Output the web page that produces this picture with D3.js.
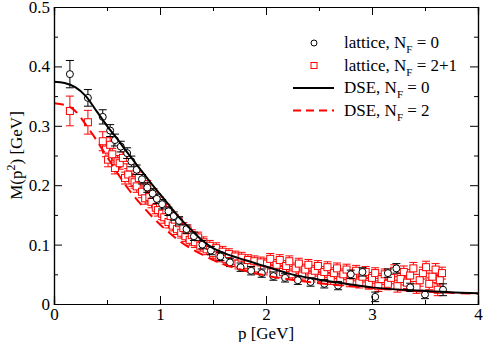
<!DOCTYPE html>
<html>
<head>
  <meta charset="utf-8">
  <title>M(p2)</title>
  <style>
    body { margin: 0; background: #fff; }
    svg text { font-family: "Liberation Serif", "Times New Roman", Times, "DejaVu Serif", serif !important; }
  </style>
</head>
<body>
  <svg width="484" height="342" font-family="Liberation Serif, serif"></svg>
  <script src="https://cdnjs.cloudflare.com/ajax/libs/d3/7.8.5/d3.min.js"></script>
  <script>
    // axis ticks
    let xTicks = [0, 1, 2, 3, 4];
    let yTicks = [0, 0.1, 0.2, 0.3, 0.4, 0.5];

    // DSE curves [p, M]
    let dseNf0 = [[0,0.374],[0.1,0.372],[0.2,0.365],[0.3,0.350],[0.4,0.325],[0.5,0.300],[0.6,0.277],
      [0.7,0.253],[0.8,0.230],[0.9,0.207],[1.0,0.185],[1.1,0.163],[1.2,0.142],[1.3,0.124],[1.4,0.107],
      [1.5,0.094],[1.6,0.086],[1.8,0.074],[2.0,0.063],[2.2,0.052],[2.5,0.041],[2.8,0.033],[3.0,0.028],
      [3.5,0.022],[4.0,0.018]];
    let dseNf2 = [[0,0.338],[0.1,0.335],[0.2,0.325],[0.3,0.302],[0.4,0.276],[0.5,0.248],[0.6,0.220],
      [0.7,0.194],[0.8,0.172],[0.9,0.152],[1.0,0.134],[1.2,0.104],[1.4,0.083],[1.6,0.067],[1.8,0.056],
      [2.0,0.048],[2.5,0.035],[3.0,0.027],[3.5,0.021],[4.0,0.017]];

    // lattice N_F = 0  [p, M, err]
    let latNf0 = [[0.15,0.387,0.023],[0.32,0.347,0.014],[0.46,0.315,0.012],[0.53,0.292,0.01],
      [0.575,0.276,0.01],[0.63,0.265,0.009],[0.69,0.254,0.009],[0.73,0.240,0.009],[0.78,0.226,0.008],
      [0.83,0.210,0.008],[0.88,0.196,0.008],[0.93,0.186,0.008],[0.97,0.177,0.008],[1.02,0.168,0.008],
      [1.08,0.156,0.007],[1.13,0.148,0.007],[1.18,0.140,0.007],[1.25,0.126,0.007],[1.32,0.114,0.007],
      [1.40,0.100,0.007],[1.48,0.090,0.007],[1.57,0.080,0.007],[1.66,0.070,0.007],[1.76,0.062,0.007],
      [1.86,0.056,0.007],[1.96,0.052,0.007],[2.07,0.047,0.007],[2.18,0.044,0.007],[2.30,0.040,0.007],
      [2.42,0.037,0.007],[2.55,0.034,0.007],[2.68,0.031,0.007],[2.80,0.050,0.007],[2.91,0.054,0.007],
      [3.03,0.012,0.008],[3.15,0.052,0.007],[3.23,0.060,0.008],[3.36,0.028,0.007],[3.50,0.016,0.007],
      [3.67,0.024,0.01]];

    // lattice N_F = 2+1  [p, M, err]
    let latNf21 = [[0.15,0.325,0.025],[0.32,0.306,0.02],[0.46,0.274,0.016],[0.49,0.260,0.012],
      [0.51,0.243,0.012],[0.53,0.268,0.012],[0.55,0.252,0.01],[0.575,0.229,0.01],[0.60,0.240,0.01],
      [0.62,0.237,0.01],[0.65,0.246,0.01],[0.67,0.212,0.01],[0.70,0.218,0.01],[0.72,0.230,0.01],
      [0.74,0.208,0.01],[0.76,0.205,0.01],[0.78,0.198,0.01],[0.80,0.212,0.01],[0.83,0.189,0.01],
      [0.86,0.178,0.01],[0.88,0.198,0.01],[0.90,0.180,0.01],[0.92,0.172,0.01],[0.94,0.184,0.01],
      [0.96,0.162,0.01],[0.98,0.158,0.01],[1.00,0.170,0.01],[1.02,0.152,0.01],[1.04,0.146,0.01],
      [1.06,0.158,0.01],[1.08,0.138,0.01],[1.10,0.148,0.01],[1.12,0.132,0.009],[1.14,0.142,0.009],
      [1.16,0.126,0.009],[1.18,0.136,0.009],[1.20,0.120,0.009],[1.22,0.128,0.009],[1.24,0.114,0.009],
      [1.26,0.124,0.009],[1.28,0.108,0.009],[1.30,0.116,0.009],[1.33,0.104,0.009],[1.36,0.112,0.009],
      [1.38,0.098,0.009],[1.41,0.104,0.009],[1.44,0.092,0.009],[1.47,0.098,0.009],[1.50,0.086,0.009],
      [1.53,0.094,0.009],[1.56,0.080,0.009],[1.59,0.088,0.009],[1.62,0.076,0.009],[1.65,0.084,0.009],
      [1.68,0.072,0.009],[1.71,0.080,0.009],[1.74,0.068,0.009],[1.77,0.078,0.009],[1.80,0.066,0.009],
      [1.83,0.074,0.009],[1.86,0.062,0.009],[1.89,0.072,0.009],[1.92,0.060,0.009],[1.95,0.070,0.009],
      [1.98,0.058,0.009],[2.01,0.068,0.009],[2.04,0.076,0.009],[2.07,0.056,0.009],[2.10,0.066,0.009],
      [2.13,0.074,0.009],[2.16,0.054,0.009],[2.19,0.064,0.009],[2.22,0.072,0.009],[2.25,0.050,0.009],
      [2.28,0.060,0.009],[2.31,0.068,0.009],[2.34,0.048,0.009],[2.37,0.058,0.009],[2.40,0.066,0.009],
      [2.43,0.046,0.009],[2.46,0.056,0.009],[2.49,0.064,0.009],[2.52,0.044,0.009],[2.55,0.054,0.009],
      [2.58,0.062,0.009],[2.61,0.042,0.009],[2.64,0.052,0.009],[2.67,0.060,0.009],[2.70,0.040,0.009],
      [2.73,0.050,0.009],[2.76,0.058,0.009],[2.79,0.038,0.009],[2.82,0.048,0.009],[2.85,0.056,0.009],
      [2.88,0.036,0.009],[2.91,0.046,0.009],[2.94,0.054,0.009],[2.97,0.034,0.009],[3.00,0.044,0.009],
      [3.03,0.052,0.009],[3.06,0.030,0.009],[3.09,0.042,0.009],[3.12,0.050,0.009],[3.15,0.034,0.01],
      [3.18,0.044,0.01],[3.21,0.056,0.01],[3.24,0.030,0.01],[3.27,0.042,0.01],[3.30,0.054,0.01],
      [3.33,0.036,0.01],[3.36,0.048,0.01],[3.39,0.060,0.01],[3.42,0.028,0.01],[3.45,0.040,0.01],
      [3.48,0.052,0.01],[3.51,0.062,0.01],[3.54,0.034,0.01],[3.57,0.046,0.01],[3.60,0.058,0.01],
      [3.62,0.024,0.01],[3.64,0.040,0.01],[3.66,0.052,0.01]];

    let svg = d3.select('svg');
    let margin = {left: 54, right: 6, top: 7, bottom: 38};
    let W = +svg.attr('width'), H = +svg.attr('height');
    let serif = '"Liberation Serif", "Times New Roman", serif';

    let x = d3.scaleLinear().domain([0, 4]).range([margin.left, W - margin.right]);
    let y = d3.scaleLinear().domain([0, 0.5]).range([H - margin.bottom, margin.top]);

    let plot = svg.append('g');
    svg.append('clipPath').attr('id', 'clip')
      .append('rect').attr('x', x(0)).attr('y', y(0.5)).attr('width', x(4) - x(0)).attr('height', y(0) - y(0.5));
    plot.attr('clip-path', 'url(#clip)');

    // error bars + markers
    function errBars(data, color, cap) {
      let g = plot.append('g').attr('stroke', color).attr('stroke-width', 1).attr('fill', 'none');
      g.selectAll('line.v').data(data).enter().append('line')
        .attr('x1', d => x(d[0])).attr('x2', d => x(d[0]))
        .attr('y1', d => y(d[1] - d[2])).attr('y2', d => y(d[1] + d[2]));
      g.selectAll('line.t').data(data).enter().append('line')
        .attr('x1', d => x(d[0]) - cap).attr('x2', d => x(d[0]) + cap)
        .attr('y1', d => y(d[1] + d[2])).attr('y2', d => y(d[1] + d[2]));
      g.selectAll('line.b').data(data).enter().append('line')
        .attr('x1', d => x(d[0]) - cap).attr('x2', d => x(d[0]) + cap)
        .attr('y1', d => y(d[1] - d[2])).attr('y2', d => y(d[1] - d[2]));
    }

    errBars(latNf21, '#ff0000', 4);
    plot.append('g').selectAll('rect').data(latNf21).enter().append('rect')
      .attr('x', d => x(d[0]) - 3.5).attr('y', d => y(d[1]) - 3.5)
      .attr('width', 7).attr('height', 7)
      .attr('fill', 'white').attr('stroke', '#ff0000').attr('stroke-width', 1);

    errBars(latNf0, '#000', 4);
    plot.append('g').selectAll('circle').data(latNf0).enter().append('circle')
      .attr('cx', d => x(d[0])).attr('cy', d => y(d[1])).attr('r', 3.5)
      .attr('fill', 'white').attr('stroke', '#000').attr('stroke-width', 1);

    let line = d3.line().x(d => x(d[0])).y(d => y(d[1])).curve(d3.curveMonotoneX);
    plot.append('path').datum(dseNf2).attr('d', line)
      .attr('fill', 'none').attr('stroke', '#ff0000').attr('stroke-width', 2)
      .attr('stroke-dasharray', '10,6');
    plot.append('path').datum(dseNf0).attr('d', line)
      .attr('fill', 'none').attr('stroke', '#000').attr('stroke-width', 2);

    // axes with inward ticks on all four sides
    let fs = 17;
    let xMinor = d3.range(0.5, 4, 1);
    let yMinor = d3.range(0.05, 0.5, 0.1);
    svg.append('g').attr('transform', `translate(0,${y(0)})`)
      .call(d3.axisBottom(x).tickValues(xTicks).tickSize(-8).tickPadding(4).tickFormat(d3.format('d')));
    svg.append('g').attr('transform', `translate(0,${y(0)})`)
      .call(d3.axisBottom(x).tickValues(xMinor).tickSize(-4).tickFormat(''));
    svg.append('g').attr('transform', `translate(0,${y(0.5)})`)
      .call(d3.axisTop(x).tickValues(xTicks).tickSize(-8).tickFormat(''));
    svg.append('g').attr('transform', `translate(0,${y(0.5)})`)
      .call(d3.axisTop(x).tickValues(xMinor).tickSize(-4).tickFormat(''));
    svg.append('g').attr('transform', `translate(${x(0)},0)`)
      .call(d3.axisLeft(y).tickValues(yTicks).tickSize(-8).tickPadding(4).tickFormat(d => d === 0 ? '0' : d3.format('.1f')(d)));
    svg.append('g').attr('transform', `translate(${x(0)},0)`)
      .call(d3.axisLeft(y).tickValues(yMinor).tickSize(-4).tickFormat(''));
    svg.append('g').attr('transform', `translate(${x(4)},0)`)
      .call(d3.axisRight(y).tickValues(yTicks).tickSize(-8).tickFormat(''));
    svg.append('g').attr('transform', `translate(${x(4)},0)`)
      .call(d3.axisRight(y).tickValues(yMinor).tickSize(-4).tickFormat(''));

    svg.selectAll('g').filter(function() { return this.hasAttribute('font-family'); })
      .attr('font-family', serif);
    svg.selectAll('.domain').attr('stroke', '#000').attr('stroke-width', 1.2);
    svg.selectAll('.tick line').attr('stroke', '#000');
    svg.selectAll('.tick text').attr('font-size', fs).attr('fill', '#000');

    // axis titles
    svg.append('text').attr('x', (x(0) + x(4)) / 2).attr('y', 339)
      .attr('text-anchor', 'middle').attr('font-size', fs).text('p [GeV]');
    let yl = svg.append('text').attr('transform', `translate(22,${y(0.25)}) rotate(-90)`)
      .attr('text-anchor', 'middle').attr('font-size', fs);
    yl.append('tspan').text('M(p');
    yl.append('tspan').attr('dy', -7).attr('font-size', 12).text('2');
    yl.append('tspan').attr('dy', 7).text(') [GeV]');

    // legend
    let legend = [
      {label: 'lattice, N', sub: 'F', rest: ' = 0', type: 'circle'},
      {label: 'lattice, N', sub: 'F', rest: ' = 2+1', type: 'square'},
      {label: 'DSE, N', sub: 'F', rest: ' = 0', type: 'solid'},
      {label: 'DSE, N', sub: 'F', rest: ' = 2', type: 'dashed'}
    ];
    let lg = svg.append('g');
    legend.forEach((d, i) => {
      let cy = 43 + i * 22.5;
      if (d.type === 'circle') {
        lg.append('circle').attr('cx', 314).attr('cy', cy).attr('r', 3)
          .attr('fill', 'white').attr('stroke', '#000');
      } else if (d.type === 'square') {
        lg.append('rect').attr('x', 311).attr('y', cy - 3).attr('width', 6).attr('height', 6)
          .attr('fill', 'white').attr('stroke', '#ff0000');
      } else {
        lg.append('line').attr('x1', 293).attr('x2', 334).attr('y1', cy).attr('y2', cy)
          .attr('stroke', d.type === 'solid' ? '#000' : '#ff0000').attr('stroke-width', 2)
          .attr('stroke-dasharray', d.type === 'dashed' ? '8,5' : null);
      }
      let t = lg.append('text').attr('x', 344).attr('y', cy + 5).attr('font-size', 17);
      t.append('tspan').text(d.label);
      t.append('tspan').attr('dy', 5).attr('font-size', 11).text(d.sub);
      t.append('tspan').attr('dy', -5).text(d.rest);
    });
  </script>
</body>
</html>
